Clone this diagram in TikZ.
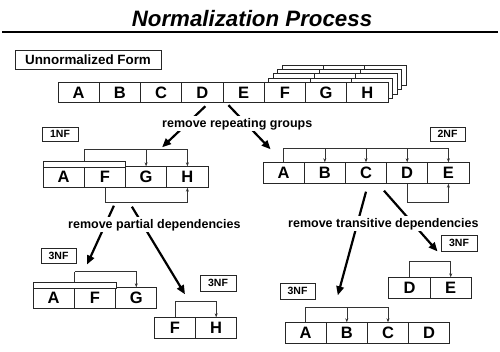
\documentclass[tikz,border=0pt]{standalone}
\usepackage{fontspec}
\setmainfont{Liberation Sans}
\usetikzlibrary{calc,arrows.meta}
\tikzset{
  cell/.style={draw=black!85, line width=0.9pt, fill=white, minimum width=41.25pt, minimum height=20.5pt, inner sep=0pt, font=\fontsize{16.5}{17}\selectfont\bfseries},
  lbl/.style={draw=black!85, line width=0.9pt, fill=white, inner sep=0pt, font=\fontsize{10.5}{11}\selectfont\bfseries},
  keybar/.style={draw=black!85, line width=0.9pt, fill=white, minimum height=6pt, inner sep=0pt},
  depline/.style={line width=0.6pt, black!80},
  dep/.style={line width=0.6pt, black!80, -{Stealth[length=4pt,width=3pt]}},
  bigarrow/.style={line width=2.2pt, -{Triangle[length=9pt,width=7.5pt]}},
  rmtxt/.style={fill=white, inner sep=1.5pt, font=\fontsize{12.5}{13}\selectfont\bfseries},
}
\begin{document}
\begin{tikzpicture}[x=1pt,y=-1pt]
\useasboundingbox (0,0) rectangle (500,351);
% title
\node[anchor=base, inner sep=0pt, font=\fontsize{22.3}{24}\selectfont\bfseries\itshape] (title) at (252,26) {Normalization Process};
\coordinate (tl) at (2,32);
\coordinate (tr) at (498,32);
\draw[line width=2.5pt] (tl) -- (tr);

% unnormalized
\node[draw=black!85, line width=0.9pt, minimum width=146pt, minimum height=19pt, inner sep=0pt, font=\fontsize{13.4}{14}\selectfont\bfseries] (uform) at (88,59.5) {Unnormalized Form};
\foreach \k in {4,3,2,1} {
  \foreach \n/\x in {F/284.9,G/326.1,H/367.4}
    \node[cell] (u\n\k) at (\x+4.5*\k, 92.5-4.3*\k) {};
}
\foreach \n/\x in {A/78.6,B/119.9,C/161.1,D/202.4,E/243.6,F/284.9,G/326.1,H/367.4}
  \node[cell] (u\n) at (\x,92.5) {\n};

% 1NF
\node[lbl, minimum width=36pt, minimum height=14pt] (l1) at (60,134) {1NF};
\foreach \n/\x in {A/63.6,F/104.9,G/146.1,H/187.4}
  \node[cell] (a\n) at (\x,177) {\n};
\node[keybar, minimum width=82pt] (k1) at (84,164) {};
\draw[depline] (k1.north) -- ++(0,-11) coordinate (j1);
\draw[dep] (j1) -| (aG.north);
\draw[dep] (j1) -| (aH.north);
\draw[depline] (aF.south) -- ++(0,15) coordinate (j2);
\draw[dep] (j2) -| (aH.south);

% 2NF
\node[lbl, minimum width=35pt, minimum height=14pt] (l2) at (447.5,134) {2NF};
\foreach \n/\x in {A/283.6,B/324.8,C/366,D/407.2,E/448.4}
  \node[cell] (b\n) at (\x,173) {\n};
\draw[depline] (bA.north) -- ++(0,-14) coordinate (j3);
\foreach \n in {B,C,D,E}
  \draw[dep] (j3) -| (b\n.north);
\draw[depline] (bD.south) -- ++(0,19) coordinate (j4);
\draw[dep] (j4) -| (bE.south);

% 3NF left (A F G)
\node[lbl, minimum width=35pt, minimum height=15pt] (l3) at (58.5,255.5) {3NF};
\foreach \n/\x in {A/53.6,F/95,G/136.3}
  \node[cell] (c\n) at (\x,298) {\n};
\node[keybar, minimum width=83pt] (k3) at (74.5,285) {};
\draw[depline] (k3.north) -- ++(0,-10) coordinate (j5);
\draw[dep] (j5) -| (cG.north);

% 3NF (F H)
\node[lbl, minimum width=36pt, minimum height=16pt] (l4) at (218,283) {3NF};
\node[cell] (dF) at (175,328) {F};
\node[cell] (dH) at (216.2,328) {H};
\draw[depline] (dF.north) -- ++(0,-16) coordinate (j6);
\draw[dep] (j6) -| (dH.north);

% 3NF (D E)
\node[lbl, minimum width=36pt, minimum height=16pt] (l5) at (459,243) {3NF};
\node[cell] (eD) at (409.5,288) {D};
\node[cell] (eE) at (450.7,288) {E};
\draw[depline] (eD.north) -- ++(0,-16) coordinate (j7);
\draw[dep] (j7) -| (eE.north);

% 3NF (A B C D)
\node[lbl, minimum width=35pt, minimum height=16pt] (l6) at (297.5,291) {3NF};
\foreach \n/\x in {A/305.6,B/346.8,C/388,D/429.2}
  \node[cell] (f\n) at (\x,333) {\n};
\draw[depline] (fA.north) -- ++(0,-15) coordinate (j8);
\draw[dep] (j8) -| (fB.north);
\draw[dep] (j8) -| (fC.north);

% big arrows
\draw[bigarrow] ($(uD.south)+(3,3)$) -- ($(aG.north)+(16,-19)$);
\draw[bigarrow] ($(uD.south east)+(5,2)$) -- ($(bA.north)+(-13,-13)$);
\draw[bigarrow] ($(aF.south)+(9,18)$) -- ($(k3.north)+(12.5,-17)$);
\draw[bigarrow] ($(aF.south)+(27,19)$) -- ($(dF.north)+(10,-23)$);
\draw[bigarrow] ($(bC.south)+(0,8)$) -- ($(fB.north)+(-9,-27)$);
\draw[bigarrow] ($(bC.south)+(18,7)$) -- ($(l5.south west)+(-3,0)$);

% step texts
\node[rmtxt, anchor=base west] (t1) at (160.5,127) {remove repeating groups};
\node[rmtxt, anchor=base west] (t2) at (66.5,228) {remove partial dependencies};
\node[rmtxt, anchor=base west] (t3) at (286.5,227) {remove transitive dependencies};
\end{tikzpicture}
\end{document}
